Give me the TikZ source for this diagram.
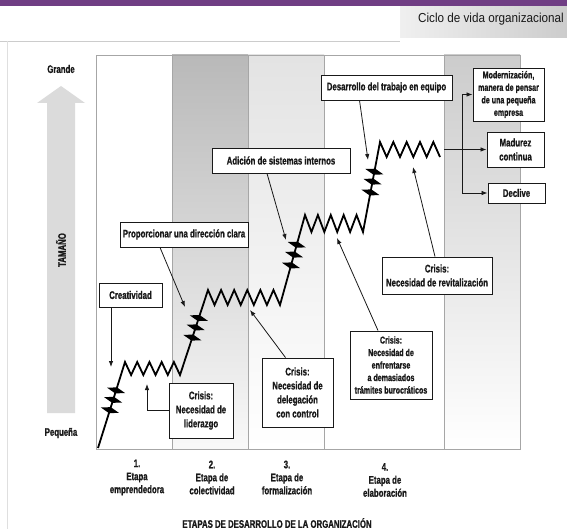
\documentclass[tikz,border=0pt]{standalone}
\usepackage{fontspec}
\setmainfont{Liberation Sans}[FakeStretch=0.71, BoldFeatures={FakeBold=1}]
\newfontfamily\hdrfont{Liberation Sans}[FakeStretch=0.9]
\usetikzlibrary{positioning, arrows.meta, calc}
\definecolor{purplebar}{RGB}{112,62,132}
\definecolor{ink}{RGB}{25,25,25}
\newcommand{\barb}[1]{\fill[black] (#1) +(-9,-2.7) -- +(0.9,-3) -- +(9,2.7) -- +(-0.9,3) -- cycle;}

\begin{document}
\begin{tikzpicture}[x=1pt,y=-1pt]
\tikzstyle{box}=[rectangle, draw=ink, line width=0.9pt, fill=white, align=center, text=ink, inner sep=1pt, font=\bfseries\fontsize{11}{14}\selectfont]
\tikzstyle{connect}=[-{Latex[length=6pt,width=4.5pt]}, line width=0.8pt, draw=ink]
\tikzstyle{stair}=[line width=1.8pt, line join=miter, black]
\tikzstyle{lbl}=[align=center, text=ink, font=\bfseries\fontsize{11}{13}\selectfont]
\tikzstyle{divider}=[draw=gray!70, line width=0.6pt]
\useasboundingbox (0,0) rectangle (567,529);
% 1. Background
%%%%%%%%%%%%%%%
\fill[purplebar] (0,0) rectangle (567,6);
\shade[left color=gray!12, right color=gray!40] (400,7) rectangle (567,38);
\node[anchor=east, inner sep=0pt, text=ink, font=\hdrfont\fontsize{13}{15}\selectfont] (title) at (564,19) {Ciclo de vida organizacional};
\draw[gray!40, line width=0.6pt] (0,41) -- (400,41);
\draw[gray!25, line width=0.6pt] (7,41) -- (7,529);

\shade[top color=gray!55, middle color=gray!22, bottom color=gray!5] (172,55) rectangle (248,449);
\shade[top color=gray!22, middle color=gray!8, bottom color=white] (248,55) rectangle (324,449);
\shade[top color=gray!40, middle color=gray!12, bottom color=white] (444,55) rectangle (520,449);
\draw[divider] (96,55) rectangle (520,449);
\foreach \x in {172,248,324,444}
  \draw[divider] (\x,55) -- (\x,449);

% 2. Size axis
%%%%%%%%%%%%%%
\fill[gray!28] (47,413) -- (47,103) -- (37,103) -- (61,86) -- (85,103) -- (75,103) -- (75,413) -- cycle;
\node[lbl] (grande) at (61,69) {Grande};
\node[lbl, rotate=90] (tamano) at (61,250) {TAMAÑO};
\node[lbl] (pequena) at (61,433) {Pequeña};

% 3. Stages
%%%%%%%%%%%
\node[lbl] (etapa1) at (137,477.5) {1.\\Etapa\\emprendedora};
\node[lbl] (etapa2) at (212,477.5) {2.\\Etapa de\\colectividad};
\node[lbl] (etapa3) at (287,477.5) {3.\\Etapa de\\formalización};
\node[lbl] (etapa4) at (385,480) {4.\\Etapa de\\elaboración};
\node[lbl] (etapas) at (277,523) {ETAPAS DE DESARROLLO DE LA ORGANIZACIÓN};

% 4. Growth line
%%%%%%%%%%%%%%%%
\coordinate (s0) at (98,448);
\coordinate (s1) at (125,362);
\coordinate (v1) at (180,375);
\coordinate (s2) at (208,290);
\coordinate (v2) at (280,305);
\coordinate (s3) at (305,215);
\coordinate (v3) at (363,232);
\coordinate (s4) at (380,142);
\coordinate (v4) at (440,157);
\draw[stair] (s0) -- (s1)
  foreach \i in {1,...,9} {-- ({125+\i*55/9},{isodd(\i) ? 375 : 362})}
  -- (s2)
  foreach \i in {1,...,11} {-- ({208+\i*72/11},{isodd(\i) ? 305 : 290})}
  -- (s3)
  foreach \i in {1,...,9} {-- ({305+\i*58/9},{isodd(\i) ? 232 : 215})}
  -- (s4)
  foreach \i in {1,...,9} {-- ({380+\i*60/9},{isodd(\i) ? 157 : 142})};
\foreach \a/\b in {s0/s1, v1/s2, v2/s3, v3/s4}{
  \foreach \t in {0.44,0.56,0.67}{
    \barb{$(\a)!\t!(\b)$}
  }
}

% 5. Boxes
%%%%%%%%%%
\node[box, minimum width=63, minimum height=24] (creat) at (130.5,295) {Creatividad};
\node[box, minimum width=128, minimum height=25] (clara) at (184,234.5) {Proporcionar una dirección clara};
\node[box, minimum width=138, minimum height=25] (adicion) at (281,160.5) {Adición de sistemas internos};
\node[box, minimum width=131, minimum height=25] (equipo) at (386.5,87.5) {Desarrollo del trabajo en equipo};
\node[box, minimum width=71, minimum height=53, font=\bfseries\fontsize{10}{12.5}\selectfont] (moder) at (508.5,94.5) {Modernización,\\manera de pensar\\de una pequeña\\empresa};
\node[box, minimum width=57, minimum height=35] (madurez) at (515.5,149.5) {Madurez\\continua};
\node[box, minimum width=57, minimum height=20] (declive) at (516.5,193) {Declive};
\node[box, minimum width=64, minimum height=55] (lider) at (201,410.5) {Crisis:\\Necesidad de\\liderazgo};
\node[box, minimum width=71, minimum height=69] (deleg) at (297.5,392.5) {Crisis:\\Necesidad de\\delegación\\con control};
\node[box, minimum width=82, minimum height=68, font=\bfseries\fontsize{10}{12.5}\selectfont] (buro) at (391,365) {Crisis:\\Necesidad de\\enfrentarse\\a demasiados\\trámites burocráticos};
\node[box, minimum width=110, minimum height=37] (revit) at (437,275.5) {Crisis:\\Necesidad de revitalización};

% 6. Arrows
%%%%%%%%%%%
\coordinate (tCreat) at (111,367);
\coordinate (tLider) at (147,384);
\coordinate (tClara) at (185,307);
\coordinate (tAdic) at (286,240);
\coordinate (tDeleg) at (250,310);
\coordinate (tEquipo) at (368,160);
\coordinate (tBuro) at (337,238);
\coordinate (tRevit) at (413,167);
\coordinate (zEnd) at (444,149.5);
\coordinate (split) at (462,149.5);
\path ([xshift=-19.5pt]creat.south) edge [connect] (tCreat)
      ([xshift=-24pt]clara.south)   edge [connect] (tClara)
      ([xshift=-14pt]adicion.south) edge [connect] (tAdic)
      ([xshift=-12pt]deleg.north)   edge [connect] (tDeleg)
      ([xshift=-27pt]equipo.south)  edge [connect] (tEquipo)
      ([xshift=-13pt]buro.north)    edge [connect] (tBuro)
      ([xshift=-2pt]revit.north)    edge [connect] (tRevit)
      (zEnd)                        edge [connect] (madurez.west);
\draw[connect] (lider.west) -| (tLider);
\draw[connect] (split) |- (moder.west);
\draw[connect] (split) |- (declive.west);

\end{tikzpicture}
\end{document}
